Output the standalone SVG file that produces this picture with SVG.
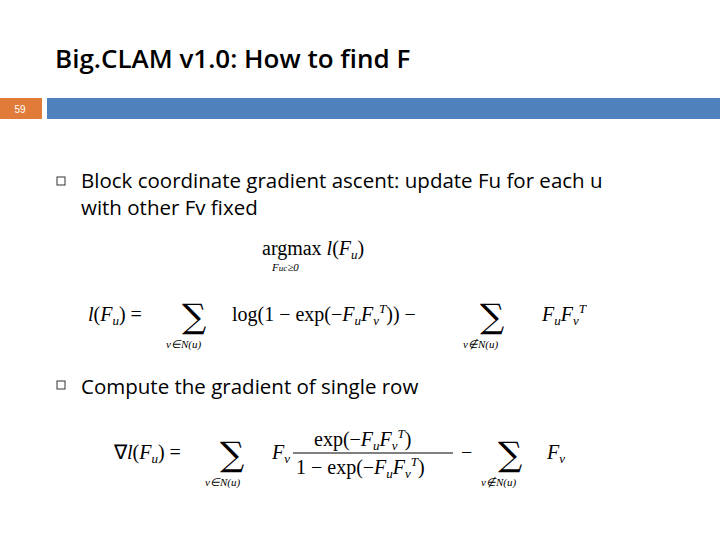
<svg xmlns="http://www.w3.org/2000/svg" width="720" height="540" viewBox="0 0 720 540">
<style>
.t{font-family:"Open Sans","Liberation Sans",sans-serif;fill:#000}
.m{font-family:"Liberation Serif",serif;fill:#000;font-size:20px}
.i{font-style:italic}
.s{font-family:"Liberation Serif",serif;font-size:11px;font-style:italic}
.sum{font-family:"DejaVu Serif",serif;font-size:34px}
</style>
<rect width="720" height="540" fill="#fff"/>
<text class="t" x="55" y="68" font-size="26" font-weight="600">Big.CLAM v1.0: How to find F</text>
<g id="header">
<rect x="0" y="98" width="42" height="21" fill="#e07b39"/>
<text x="20" y="113" font-family="Liberation Sans,sans-serif" font-size="10" fill="#fff" text-anchor="middle">59</text>
<rect x="47" y="98" width="673" height="21" fill="#4f81bd"/>
</g>
<g id="bullet1">
<rect x="57" y="177" width="8" height="8" fill="none" stroke="#333" stroke-width="1"/>
<text class="t" x="81" y="188" font-size="20.5">Block coordinate gradient ascent: update Fu for each u</text>
<text class="t" x="81" y="215" font-size="20.5">with other Fv fixed</text>
</g>
<g id="argmax">
<text class="m" x="262" y="255">argmax <tspan class="i">l</tspan>(<tspan class="i">F<tspan font-size="13" dy="4">u</tspan></tspan><tspan dy="-4">)</tspan></text>
<text class="s" x="272" y="271">F<tspan font-size="9">uc</tspan>≥0</text>
</g>
<g id="eq1">
<text class="m" x="88" y="321"><tspan class="i">l</tspan>(<tspan class="i">F<tspan font-size="13" dy="4">u</tspan></tspan><tspan dy="-4">) =</tspan></text>
<text class="sum" x="182" y="328">∑</text>
<text class="s" x="166" y="348">v∈N(u)</text>
<text class="m" x="232" y="321">log(1 − exp(−<tspan class="i">F<tspan font-size="13" dy="4">u</tspan><tspan dy="-4">F</tspan><tspan font-size="13" dy="4">v</tspan></tspan><tspan font-size="13" class="i" dy="-12">T</tspan><tspan dy="8">)) −</tspan></text>
<text class="sum" x="480" y="328">∑</text>
<text class="s" x="463" y="348">v∉N(u)</text>
<text class="m i" x="542" y="321">F<tspan font-size="13" dy="4">u</tspan><tspan dy="-4">F</tspan><tspan font-size="13" dy="4">v</tspan><tspan font-size="13" dy="-12">T</tspan></text>
</g>
<g id="bullet2">
<rect x="57" y="381" width="8" height="8" fill="none" stroke="#333" stroke-width="1"/>
<text class="t" x="81" y="394" font-size="20.5">Compute the gradient of single row</text>
</g>
<g id="eq2">
<text class="m" x="114" y="459">∇<tspan class="i">l</tspan>(<tspan class="i">F<tspan font-size="13" dy="4">u</tspan></tspan><tspan dy="-4">) =</tspan></text>
<text class="sum" x="220" y="466">∑</text>
<text class="s" x="205" y="486">v∈N(u)</text>
<text class="m i" x="272" y="459">F<tspan font-size="13" dy="4">v</tspan></text>
<text class="m" x="314" y="446">exp(−<tspan class="i">F<tspan font-size="13" dy="4">u</tspan><tspan dy="-4">F</tspan><tspan font-size="13" dy="4">v</tspan></tspan><tspan font-size="13" class="i" dy="-12">T</tspan><tspan dy="8">)</tspan></text>
<line x1="293" y1="453" x2="453" y2="453" stroke="#000" stroke-width="1"/>
<text class="m" x="296" y="474">1 − exp(−<tspan class="i">F<tspan font-size="13" dy="4">u</tspan><tspan dy="-4">F</tspan><tspan font-size="13" dy="4">v</tspan></tspan><tspan font-size="13" class="i" dy="-12">T</tspan><tspan dy="8">)</tspan></text>
<text class="m" x="461" y="459">−</text>
<text class="sum" x="498" y="466">∑</text>
<text class="s" x="481" y="486">v∉N(u)</text>
<text class="m i" x="547" y="459">F<tspan font-size="13" dy="4">v</tspan></text>
</g>
</svg>
